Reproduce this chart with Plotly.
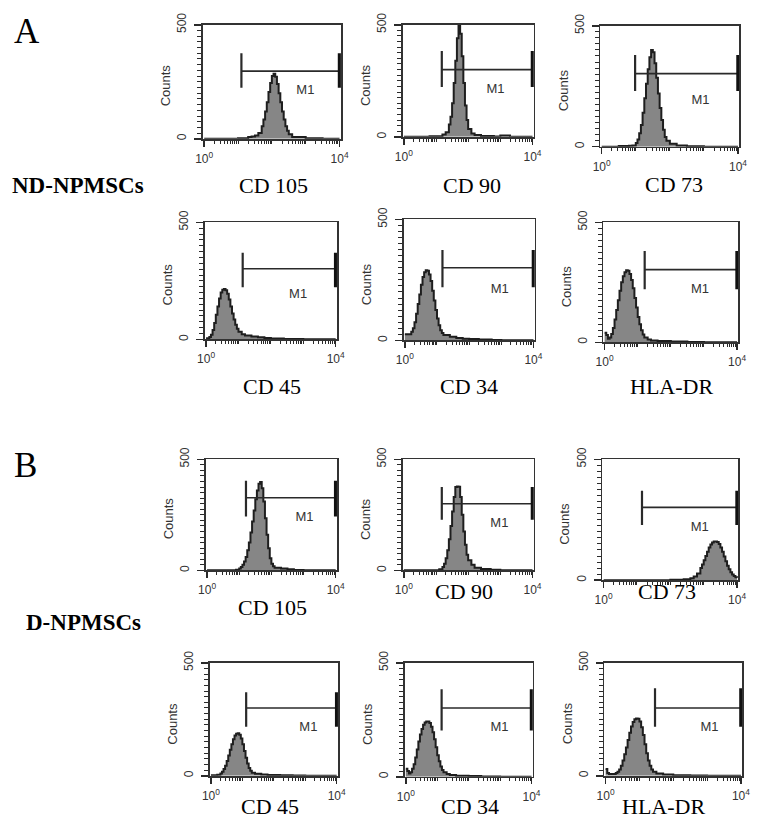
import plotly.graph_objects as go

W, H = 765, 825

# ---------------- data: histogram outlines (log10 channel position, counts) ----------------
A_CD105_log = [0.0, 0.5, 1.0, 1.3, 1.4, 1.5, 1.6, 1.7, 1.75, 1.8, 1.85, 1.9, 1.95, 2.0, 2.05, 2.1, 2.15, 2.2, 2.25, 2.3, 2.35, 2.4, 2.45, 2.5, 2.6, 3.0, 3.5, 4.0]
A_CD105_cnt = [0, 0, 2, 8, 10, 15, 25, 55, 85, 120, 160, 205, 245, 275, 285, 272, 240, 200, 160, 120, 85, 55, 35, 20, 8, 2, 0, 0]

A_CD90_log = [0.0, 0.8, 1.2, 1.3, 1.4, 1.45, 1.5, 1.55, 1.6, 1.65, 1.7, 1.75, 1.8, 1.85, 1.9, 1.95, 2.0, 2.1, 2.2, 2.4, 2.8, 3.0, 3.3, 4.0]
A_CD90_cnt = [0, 3, 10, 20, 55, 90, 150, 240, 340, 440, 498, 460, 360, 240, 140, 75, 35, 15, 8, 4, 2, 6, 0, 0]

A_CD73_log = [0.0, 0.5, 0.8, 0.9, 1.0, 1.05, 1.1, 1.15, 1.2, 1.25, 1.3, 1.35, 1.4, 1.45, 1.5, 1.55, 1.6, 1.65, 1.7, 1.75, 1.8, 1.85, 1.9, 2.0, 2.2, 2.5, 3.0, 4.0]
A_CD73_cnt = [0, 3, 4, 5, 15, 30, 55, 90, 140, 200, 260, 320, 370, 400, 390, 345, 285, 220, 160, 110, 70, 40, 25, 12, 5, 2, 0, 0]

A_CD45_log = [0.0, 0.1, 0.15, 0.2, 0.25, 0.3, 0.35, 0.4, 0.45, 0.5, 0.55, 0.6, 0.65, 0.7, 0.75, 0.8, 0.85, 0.9, 0.95, 1.0, 1.1, 1.2, 1.4, 1.6, 1.8, 2.0, 2.4, 2.8, 3.0, 4.0]
A_CD45_cnt = [5, 10, 20, 40, 70, 105, 140, 175, 200, 212, 215, 210, 195, 170, 140, 110, 85, 62, 45, 33, 22, 16, 12, 9, 6, 4, 2, 1, 0, 0]

A_CD34_log = [0.0, 0.1, 0.2, 0.25, 0.3, 0.35, 0.4, 0.45, 0.5, 0.55, 0.6, 0.65, 0.7, 0.75, 0.8, 0.85, 0.9, 0.95, 1.0, 1.05, 1.1, 1.15, 1.2, 1.4, 1.6, 1.8, 2.0, 2.3, 2.7, 3.0, 4.0]
A_CD34_cnt = [25, 25, 35, 50, 75, 110, 150, 190, 230, 262, 282, 290, 288, 272, 245, 205, 165, 125, 90, 62, 42, 30, 22, 15, 10, 7, 5, 3, 1, 0, 0]

A_HLADR_log = [0.0, 0.05, 0.1, 0.15, 0.2, 0.25, 0.3, 0.35, 0.4, 0.45, 0.5, 0.55, 0.6, 0.65, 0.7, 0.75, 0.8, 0.85, 0.9, 0.95, 1.0, 1.05, 1.1, 1.15, 1.2, 1.3, 1.4, 1.6, 2.0, 2.5, 3.0, 4.0]
A_HLADR_cnt = [40, 30, 15, 20, 35, 60, 95, 135, 175, 215, 250, 275, 292, 300, 298, 285, 260, 225, 185, 145, 105, 75, 50, 32, 20, 12, 8, 5, 3, 1, 0, 0]

B_CD105_log = [0.0, 0.9, 1.0, 1.05, 1.1, 1.15, 1.2, 1.25, 1.3, 1.35, 1.4, 1.45, 1.5, 1.55, 1.6, 1.65, 1.7, 1.75, 1.8, 1.85, 1.9, 1.95, 2.0, 2.05, 2.1, 2.3, 2.5, 2.7, 3.0, 4.0]
B_CD105_cnt = [0, 3, 8, 15, 25, 40, 60, 90, 125, 170, 220, 270, 320, 360, 390, 398, 370, 310, 235, 160, 100, 55, 30, 18, 12, 8, 5, 2, 0, 0]

B_CD90_log = [0.0, 1.1, 1.2, 1.25, 1.3, 1.35, 1.4, 1.45, 1.5, 1.55, 1.6, 1.65, 1.7, 1.75, 1.8, 1.85, 1.9, 1.95, 2.0, 2.1, 2.2, 2.4, 2.7, 3.0, 4.0]
B_CD90_cnt = [0, 5, 15, 30, 55, 90, 140, 200, 265, 330, 375, 378, 376, 330, 250, 175, 115, 70, 45, 25, 12, 6, 3, 0, 0]

B_CD73_log = [0.0, 2.0, 2.4, 2.6, 2.7, 2.8, 2.9, 2.95, 3.0, 3.05, 3.1, 3.15, 3.2, 3.25, 3.3, 3.35, 3.4, 3.45, 3.5, 3.55, 3.6, 3.65, 3.7, 3.75, 3.8, 3.85, 3.9, 3.95, 4.0]
B_CD73_cnt = [0, 2, 4, 8, 15, 28, 50, 65, 82, 100, 118, 135, 148, 156, 160, 160, 158, 150, 135, 118, 98, 78, 60, 45, 33, 24, 17, 12, 10]

B_CD45_log = [0.0, 0.2, 0.3, 0.35, 0.4, 0.45, 0.5, 0.55, 0.6, 0.65, 0.7, 0.75, 0.8, 0.85, 0.9, 0.95, 1.0, 1.05, 1.1, 1.15, 1.2, 1.25, 1.3, 1.4, 1.6, 1.8, 2.2, 2.6, 3.0, 4.0]
B_CD45_cnt = [3, 5, 10, 18, 30, 45, 65, 90, 115, 140, 162, 178, 186, 188, 182, 165, 140, 110, 80, 55, 35, 22, 14, 9, 6, 4, 2, 1, 0, 0]

B_CD34_log = [0.0, 0.05, 0.1, 0.15, 0.2, 0.25, 0.3, 0.35, 0.4, 0.45, 0.5, 0.55, 0.6, 0.65, 0.7, 0.75, 0.8, 0.85, 0.9, 0.95, 1.0, 1.05, 1.1, 1.15, 1.2, 1.3, 1.4, 1.6, 2.0, 2.4, 3.0, 4.0]
B_CD34_cnt = [35, 25, 15, 20, 35, 55, 85, 120, 155, 185, 210, 228, 238, 242, 242, 236, 220, 195, 165, 130, 95, 68, 45, 30, 20, 12, 8, 5, 3, 1, 0, 0]

B_HLADR_log = [0.0, 0.05, 0.1, 0.2, 0.3, 0.35, 0.4, 0.45, 0.5, 0.55, 0.6, 0.65, 0.7, 0.75, 0.8, 0.85, 0.9, 0.95, 1.0, 1.05, 1.1, 1.15, 1.2, 1.25, 1.3, 1.35, 1.4, 1.5, 1.7, 2.0, 2.5, 3.0, 4.0]
B_HLADR_cnt = [30, 12, 8, 8, 12, 18, 28, 45, 68, 95, 125, 158, 190, 218, 238, 250, 254, 252, 240, 215, 180, 140, 100, 68, 45, 28, 18, 10, 6, 3, 1, 0, 0]

# ---------------- panel labels and M1 gates ----------------
captions = ["CD 105", "CD 90", "CD 73", "CD 45", "CD 34", "HLA-DR",
            "CD 105", "CD 90", "CD 73", "CD 45", "CD 34", "HLA-DR"]
gate_left_log = [1.10, 1.18, 0.98, 1.13, 1.17, 1.21, 1.21, 1.18, 1.15, 1.12, 1.14, 1.46]
gate_right_log = [4.0] * 12
gate_level = [297, 300, 302, 302, 300, 303, 327, 300, 301, 300, 302, 300]
gate_bar_low = [224, 222, 230, 223, 220, 221, 243, 228, 228, 217, 203, 217]
gate_bar_high = [375, 383, 379, 370, 374, 381, 403, 375, 370, 370, 384, 387]
m1_log = [2.99, 2.85, 2.90, 2.84, 2.95, 2.88, 3.03, 2.97, 2.88, 3.10, 2.98, 3.07]
m1_count = [211, 209, 190, 189, 211, 221, 235, 210, 215, 213, 216, 213]
y_tick_vals = [0, 500]
x_tick_vals = [1, 10000]
x_tick_text = ["10<sup>0</sup>", "10<sup>4</sup>"]

hist_log = [A_CD105_log, A_CD90_log, A_CD73_log, A_CD45_log, A_CD34_log, A_HLADR_log,
            B_CD105_log, B_CD90_log, B_CD73_log, B_CD45_log, B_CD34_log, B_HLADR_log]
hist_cnt = [A_CD105_cnt, A_CD90_cnt, A_CD73_cnt, A_CD45_cnt, A_CD34_cnt, A_HLADR_cnt,
            B_CD105_cnt, B_CD90_cnt, B_CD73_cnt, B_CD45_cnt, B_CD34_cnt, B_HLADR_cnt]

# ---------------- layout geometry (pixels: left, right, top, bottom) ----------------
boxes = [(199, 340, 13, 129), (403, 537, 13, 127), (605, 747, 14, 137),
         (201, 336, 214, 333), (404, 538, 211, 334), (608, 746, 214, 336),
         (202, 336, 455, 568), (403, 537, 455, 568), (607, 746, 455, 578),
         (206, 337, 662, 777), (405, 536, 662, 778), (609, 750, 662, 777)]
caption_pos = [(271, 176), (474, 177), (680, 175),
               (270, 381), (471, 381), (678, 381),
               (270, 606), (466, 590), (673, 590),
               (268, 808), (472, 808), (670, 808)]

SANS = "Liberation Sans, Arial, sans-serif"
SERIF = "Liberation Serif, Times New Roman, serif"
DARK = "#2a2a2a"

fig = go.Figure()
layout = dict(width=W, height=H, margin=dict(l=0, r=0, t=0, b=0),
              paper_bgcolor="white", plot_bgcolor="white", showlegend=False)
annotations = []
minor_x = [m * 10 ** k for k in range(4) for m in range(2, 11)]

for i in range(12):
    l, r, t, b = boxes[i]
    sfx = "" if i == 0 else str(i + 1)
    xa, ya = "x" + sfx, "y" + sfx
    xs = [10 ** v for v in hist_log[i]]
    fig.add_trace(go.Scatter(x=xs, y=hist_cnt[i], mode="lines", line_shape="hv",
                             line=dict(color="#1e1e1e", width=2),
                             fill="tozeroy", fillcolor="#868686",
                             xaxis=xa, yaxis=ya, hoverinfo="skip"))
    gl, gr = 10 ** gate_left_log[i], 10 ** gate_right_log[i]
    fig.add_trace(go.Scatter(x=[gl, gr], y=[gate_level[i], gate_level[i]], mode="lines",
                             line=dict(color=DARK, width=1.6), xaxis=xa, yaxis=ya))
    fig.add_trace(go.Scatter(x=[gl, gl], y=[gate_bar_low[i], gate_bar_high[i]], mode="lines",
                             line=dict(color=DARK, width=2.2), xaxis=xa, yaxis=ya))
    fig.add_trace(go.Scatter(x=[gr, gr], y=[gate_bar_low[i], gate_bar_high[i]], mode="lines",
                             line=dict(color="#111111", width=3.5), xaxis=xa, yaxis=ya))
    fig.add_trace(go.Scatter(x=[10 ** m1_log[i]], y=[m1_count[i]], mode="text", text=["M1"],
                             textfont=dict(family=SANS, size=13, color="#333"),
                             xaxis=xa, yaxis=ya))

    layout["xaxis" + sfx] = dict(
        domain=[l / W, r / W], anchor=ya, type="log", range=[-0.04, 4.04],
        tickvals=x_tick_vals, ticktext=x_tick_text,
        ticks="outside", ticklen=6, tickwidth=1.5, tickcolor=DARK,
        minor=dict(tickvals=minor_x, ticks="outside", ticklen=3, tickcolor=DARK, tickwidth=1),
        showgrid=False, zeroline=False, showline=True, mirror=True,
        linecolor="#333333", linewidth=1.7,
        tickfont=dict(family=SANS, size=12, color="#333"), ticklabelstandoff=2)
    layout["yaxis" + sfx] = dict(
        domain=[1 - b / H, 1 - t / H], anchor=xa, range=[0, 500],
        tickvals=y_tick_vals, ticks="outside", ticklen=7, tickwidth=1.5, tickcolor=DARK,
        minor=dict(dtick=25, ticks="outside", ticklen=4, tickcolor=DARK, tickwidth=1),
        tickangle=-90, showgrid=False, zeroline=False, showline=True, mirror=True,
        linecolor="#333333", linewidth=1.7,
        tickfont=dict(family=SANS, size=12, color="#333"), ticklabelstandoff=3)

    annotations.append(dict(text="Counts", xref="paper", yref="paper",
                            x=(l - 38) / W, y=1 - ((t + b) / 2 + 4) / H,
                            xanchor="center", yanchor="middle", textangle=-90,
                            showarrow=False, font=dict(family=SANS, size=13, color="#333")))
    cx, cy = caption_pos[i]
    annotations.append(dict(text=captions[i], xref="paper", yref="paper",
                            x=cx / W, y=1 - cy / H, xanchor="center", yanchor="middle",
                            showarrow=False, font=dict(family=SERIF, size=22, color="black")))

row_labels = [("A", 19, 20, 35, False), ("ND-NPMSCs", 72, 177, 23, True),
              ("B", 18, 461, 35, False), ("D-NPMSCs", 77, 621, 23, True)]
for txt, cx, cy, size, bold in row_labels:
    annotations.append(dict(text="<b>%s</b>" % txt if bold else txt, xref="paper", yref="paper",
                            x=cx / W, y=1 - cy / H, xanchor="center", yanchor="middle",
                            showarrow=False, font=dict(family=SERIF, size=size, color="black")))

layout["annotations"] = annotations
fig.update_layout(**layout)
fig.write_html("out.html", config={"displayModeBar": False, "staticPlot": True},
               post_script="document.body.style.margin='0';document.body.style.overflow='hidden';")
